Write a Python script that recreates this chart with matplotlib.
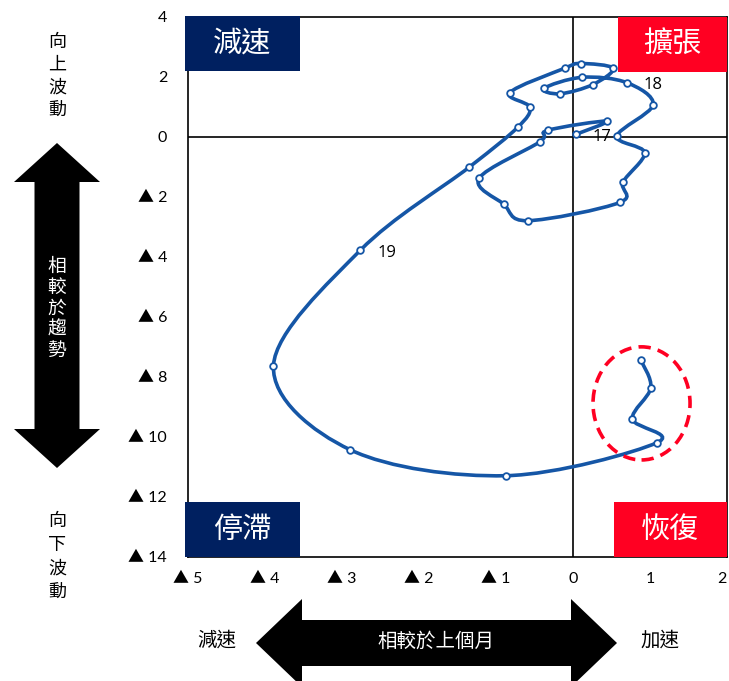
import numpy as np
import matplotlib.pyplot as plt
from matplotlib.path import Path
from matplotlib.patches import PathPatch, Ellipse, Rectangle, Polygon

plt.rcParams['font.family'] = ['Lato', 'Noto Sans CJK TC', 'DejaVu Sans']

# monthly points, Jan 2017 .. Aug 2019
x_vals = [0.04, 0.44, -0.33, -0.43, -1.22, -0.90, -0.59, 0.61, 0.65, 0.93, 0.57, 1.04,
          0.70, 0.12, -0.38, -0.17, 0.26, 0.52, 0.10, -0.11, -0.82, -0.56, -0.72, -1.35,
          -2.76, -3.89, -2.89, -0.87, 1.09, 0.77, 1.01, 0.88]
y_vals = [0.09, 0.53, 0.22, -0.16, -1.38, -2.24, -2.79, -2.18, -1.50, -0.52, 0.03, 1.07,
          1.81, 1.99, 1.62, 1.44, 1.75, 2.29, 2.45, 2.29, 1.48, 0.99, 0.32, -1.01,
          -3.77, -7.62, -10.43, -11.29, -10.19, -9.40, -8.36, -7.43]
point_labels = ['17'] + [''] * 11 + ['18'] + [''] * 11 + ['19'] + [''] * 7

x_ticks = [-5, -4, -3, -2, -1, 0, 1, 2]
x_tick_labels = ['▲ 5', '▲ 4', '▲ 3', '▲ 2', '▲ 1', '0', '1', '2']
y_ticks = [4, 2, 0, -2, -4, -6, -8, -10, -12, -14]
y_tick_labels = ['4', '2', '0', '▲ 2', '▲ 4', '▲ 6', '▲ 8', '▲ 10', '▲ 12', '▲ 14']

# highlighted recent months
circle_center = (0.89, -8.88)
circle_size = (1.26, 3.77)

line_color = '#1556A6'
navy = '#002060'
red = '#FF0022'
cjk = ['Noto Sans CJK TC', 'DejaVu Sans']


def smooth_path(xs, ys):
    # Excel style smoothed line (catmull-rom as bezier)
    pts = np.column_stack([xs, ys])
    n = len(pts)
    verts = [pts[0]]
    codes = [Path.MOVETO]
    for i in range(n - 1):
        p0 = pts[max(i - 1, 0)]
        p1 = pts[i]
        p2 = pts[i + 1]
        p3 = pts[min(i + 2, n - 1)]
        verts += [p1 + (p2 - p0) / 6, p2 - (p3 - p1) / 6, p2]
        codes += [Path.CURVE4] * 3
    return Path(verts, codes)


fig = plt.figure(figsize=(7.29, 6.81), dpi=100)
ax = fig.add_axes([188 / 729, 124 / 681, 539 / 729, 540 / 681])
ax.set_zorder(2)

ax.set_xlim(-5, 2)
ax.set_ylim(-14, 4)
ax.axhline(0, color='black', lw=1.2, zorder=1)
ax.axvline(0, color='black', lw=1.2, zorder=1)

ax.add_patch(PathPatch(smooth_path(x_vals, y_vals), fill=False, ec=line_color, lw=2.6,
                       capstyle='round', zorder=3))
ax.plot(x_vals, y_vals, ls='none', marker='o', ms=4.8, mfc='white', mec=line_color,
        mew=1.3, zorder=4)

for x, y, lab in zip(x_vals, y_vals, point_labels):
    if lab:
        ax.annotate(lab, (x, y), xytext=(12, -2), textcoords='offset points',
                    va='center', ha='left', fontsize=12, family='Open Sans')

ax.add_patch(Ellipse(circle_center, circle_size[0], circle_size[1], fill=False, ec=red,
                     lw=2.6, ls=(0, (3.4, 2.0)), zorder=5))

ax.set_xticks(x_ticks, x_tick_labels)
ax.set_yticks(y_ticks, y_tick_labels)
ax.tick_params(length=0, labelsize=11.5)
ax.tick_params(axis='x', pad=11)
ax.tick_params(axis='y', pad=15)
ax.get_xticklabels()[-1].set_horizontalalignment('right')
for s in ax.spines.values():
    s.set_linewidth(1.2)
    s.set_color('black')

# quadrant boxes
boxes = [('減速', -0.006, 0.9, 0.214, navy), ('擴張', 0.797, 0.898, 0.203, red),
         ('停滯', -0.006, 0.0, 0.214, navy), ('恢復', 0.79, 0.0, 0.21, red)]
for lab, bx, by, bw, col in boxes:
    ax.add_patch(Rectangle((bx, by), bw, 0.102, transform=ax.transAxes, fc=col, ec='none',
                           clip_on=False, zorder=6))
    ax.text(bx + bw / 2, by + 0.051, lab, transform=ax.transAxes, ha='center', va='center',
            color='white', fontsize=21, family=cjk, zorder=7)

# decorations outside the plot, in pixel coords
deco = fig.add_axes([0, 0, 1, 1])
deco.set_zorder(1)
deco.set_xlim(0, 729)
deco.set_ylim(681, 0)
deco.axis('off')


def double_arrow(c, a, b, head_len, shaft_hw, head_hw, vertical):
    pts = [(a, 0), (a + head_len, head_hw), (a + head_len, shaft_hw), (b - head_len, shaft_hw),
           (b - head_len, head_hw), (b, 0), (b - head_len, -head_hw), (b - head_len, -shaft_hw),
           (a + head_len, -shaft_hw), (a + head_len, -head_hw)]
    if vertical:
        pts = [(c + q, p) for p, q in pts]
    else:
        pts = [(p, c + q) for p, q in pts]
    deco.add_patch(Polygon(pts, closed=True, fc='black', ec='none'))


double_arrow(57, 143, 468, 39, 22.5, 43, True)
double_arrow(643, 256, 617, 46, 23, 44, False)

for i, ch in enumerate('相較於趨勢'):
    deco.text(57, 266 + i * 21, ch, color='white', fontsize=13.5, family=cjk,
              ha='center', va='center')
for i, ch in enumerate('向上波動'):
    deco.text(57, 42 + i * 23, ch, fontsize=13, family=cjk, ha='center', va='center')
for i, ch in enumerate('向下波動'):
    deco.text(57, 521 + i * 24, ch, fontsize=13, family=cjk, ha='center', va='center')

deco.text(436, 641, '相較於上個月', color='white', fontsize=14, family=cjk,
          ha='center', va='center')
deco.text(217, 640, '減速', fontsize=14, family=cjk, ha='center', va='center')
deco.text(660, 640, '加速', fontsize=14, family=cjk, ha='center', va='center')

fig.savefig('out.png', dpi=100)
